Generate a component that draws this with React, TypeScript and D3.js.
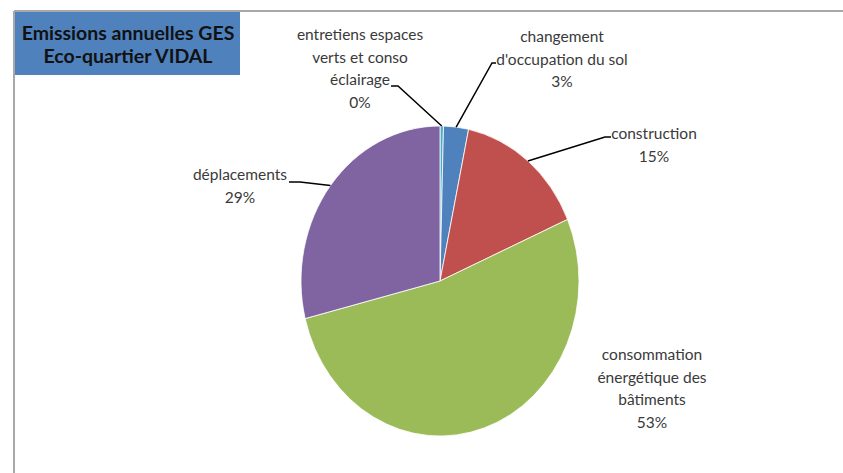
import React from 'react';
import * as d3 from 'd3';

// Data (clockwise from 12 o'clock)
const categories = [
  "entretiens espaces verts et conso éclairage",
  "changement d'occupation du sol",
  "construction",
  "consommation énergétique des bâtiments",
  "déplacements",
];
const shares = [0.4, 2.9, 15.2, 52.6, 28.9];
const labelLines = [
  ["entretiens espaces", "verts et conso", "éclairage"],
  ["changement", "d'occupation du sol"],
  ["construction"],
  ["consommation", "énergétique des", "bâtiments"],
  ["déplacements"],
];
const colors = ["#4bacc6", "#4f81bd", "#c0504d", "#9bbb59", "#8064a2"];
const titleLines = ["Emissions annuelles GES", "Eco-quartier VIDAL"];

const W = 843;
const H = 473;
const cx = 440;
const cy = 281;
const rx = 139;
const ry = 155;
const font = "Lato, 'Open Sans', sans-serif";
const lineH = 22.5;

// label block placement (centre x, first line centre y) and leader hook anchor
const labelLayout = [
  { x: 360, y: 34, hook: [391, 86], hookLen: 7 },
  { x: 562, y: 36, hook: [496, 63], hookLen: -4 },
  { x: 654, y: 133, hook: [611, 137], hookLen: -6 },
  { x: 652, y: 354, hook: null, hookLen: 0 },
  { x: 240, y: 174, hook: [289, 182], hookLen: 11 },
];

const App: React.FC = () => {
  const pie = d3.pie<number>().sort(null).value(d => d);
  const arcs = pie(shares);
  const arc = d3.arc<d3.PieArcDatum<number>>().innerRadius(0).outerRadius(ry);
  const sx = rx / ry;

  const edgePoint = (a: d3.PieArcDatum<number>) => {
    const m = (a.startAngle + a.endAngle) / 2;
    return [cx + rx * Math.sin(m), cy - ry * Math.cos(m)];
  };

  return (
    <svg width={W} height={H} style={{ position: 'absolute', left: 0, top: 0, background: '#fff' }}>
      {/* frame */}
      <line x1={14} y1={11} x2={W} y2={11} stroke="#a8a8a8" strokeWidth={2} />
      <line x1={14} y1={11} x2={14} y2={H} stroke="#a8a8a8" strokeWidth={2} />

      {/* title box */}
      <rect x={15} y={12} width={225} height={63} fill="#4f81bd" />
      {titleLines.map((t, i) => (
        <text key={t} x={128} y={32 + i * 23} textAnchor="middle" dominantBaseline="central"
          fontFamily={font} fontWeight={700} fontSize={19.5} fill="#111">{t}</text>
      ))}

      {/* slices */}
      <g transform={`translate(${cx},${cy}) scale(${sx},1)`}>
        {arcs.map((a, i) => (
          <path key={categories[i]} d={arc(a) || ''} fill={colors[i]}
            stroke="#fff" strokeWidth={0.8} vectorEffect="non-scaling-stroke" />
        ))}
      </g>

      {/* leader lines */}
      {arcs.map((a, i) => {
        const l = labelLayout[i];
        if (!l.hook) return null;
        const [ex, ey] = edgePoint(a);
        const [hx, hy] = l.hook;
        const pts = `${hx},${hy} ${hx + l.hookLen},${hy} ${ex},${ey}`;
        return <polyline key={'l' + i} points={pts} fill="none" stroke="#000" strokeWidth={1.5} />;
      })}

      {/* labels */}
      {arcs.map((a, i) => {
        const l = labelLayout[i];
        const lines = [...labelLines[i], `${Math.round(shares[i])}%`];
        return (
          <g key={'t' + i}>
            {lines.map((t, j) => (
              <text key={j} x={l.x} y={l.y + j * lineH} textAnchor="middle" dominantBaseline="central"
                fontFamily={font} fontSize={15.5} fill="#3a3a3a">{t}</text>
            ))}
          </g>
        );
      })}
    </svg>
  );
};

export default App;
